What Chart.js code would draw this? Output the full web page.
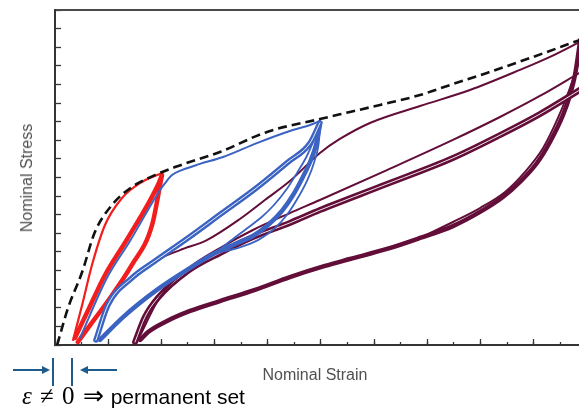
<!DOCTYPE html>
<html><head><meta charset="utf-8">
<script src="https://cdn.jsdelivr.net/npm/chart.js@4.4.1/dist/chart.umd.min.js"></script>
<style>
html,body{margin:0;padding:0;background:#fff;}
#wrap{position:relative;width:579px;height:416px;overflow:hidden;background:#fff;}
#c{position:absolute;left:0;top:0;}
.lbl{position:absolute;font-family:'Liberation Sans',Arial,sans-serif;color:#505050;font-size:16px;line-height:16px;white-space:nowrap;}
#ann{position:absolute;left:22px;top:384px;line-height:24px;white-space:nowrap;color:#000;}
#ann .m{font-family:'Liberation Serif','Times New Roman',serif;font-size:25px;letter-spacing:1px;}
#ann .s{font-family:'Liberation Sans',Arial,sans-serif;font-size:21px;}
</style></head><body>
<div id="wrap">
<canvas id="c" width="579" height="416"></canvas>
<div class="lbl" style="left:27px;top:178px;transform:translate(-50%,-50%) rotate(-90deg);">Nominal Stress</div>
<div class="lbl" style="left:315px;top:375px;transform:translate(-50%,-50%);">Nominal Strain</div>
<svg style="position:absolute;left:0;top:355px" width="130" height="34">
  <g stroke="#1e5a8a" stroke-width="2" fill="#1e5a8a">
    <line x1="13" y1="15" x2="44" y2="15"/>
    <polygon points="50,15 42,11 42,19" stroke="none"/>
    <line x1="53" y1="3" x2="53" y2="31"/>
    <line x1="72" y1="3" x2="72" y2="31"/>
    <line x1="86" y1="15" x2="117" y2="15"/>
    <polygon points="80,15 88,11 88,19" stroke="none"/>
  </g>
</svg>
<div id="ann"><span class="m"><i>ε</i> ≠ 0 ⇒</span><span class="s"> permanent set</span></div>
</div>
<script>
// Virgin (envelope) curve
const envStrain = [0.08,0.49,1.02,1.50,2.14,2.89,3.76,4.51,6.20,7.97,9.96,11.09,12.22,13.72,14.85,16.24,17.86,19.75];
const envStress = [0.00,1.99,3.92,6.07,7.52,8.49,9.13,9.56,10.37,11.45,12.14,12.52,12.90,13.43,13.97,14.62,15.42,16.40];
// Red cycles (first stretch level)
const redLoadStrain = [0.68,1.02,1.39,1.88,2.52,3.27,4.02];
const redLoadStress = [0.27,2.15,4.30,6.45,7.90,8.76,9.24];
const redReloadStrain = [0.75,1.32,1.88,2.74,3.87,4.02];
const redReloadStress = [0.38,2.10,3.76,5.75,8.60,9.13];
const redUnloadStrain = [4.02,3.65,2.89,1.88,1.32,0.86];
const redUnloadStress = [9.13,6.45,4.30,2.15,1.07,0.16];
// Blue cycles (second stretch level)
const blueLoadStrain = [0.94,1.95,2.82,3.95,4.14,4.40,4.77,5.45,6.32,7.59,8.83,9.59,9.96];
const blueLoadStress = [0.38,3.60,5.59,8.33,8.70,9.13,9.40,9.73,10.10,10.85,11.50,11.82,12.04];
const blueReloadStrain = [1.54,1.99,2.89,3.76,5.00,6.28,7.52,8.76,9.59,9.96];
const blueReloadStress = [0.27,2.15,3.60,4.51,5.75,7.09,8.38,9.83,10.85,11.93];
const blueUnloadStrain = [9.96,9.81,9.62,9.32,8.95,8.53,8.01,7.44,6.77,6.02,5.08,3.83,2.56,1.69];
const blueUnloadStress = [11.82,10.75,9.94,9.03,8.06,7.20,6.45,5.86,5.43,4.94,4.14,2.96,1.50,0.27];
const blueFanAStrain = [9.96,9.70,9.45,9.10,8.70,8.25,7.75,7.20,6.60,6.02];
const blueFanAStress = [11.95,10.90,10.10,9.25,8.35,7.55,6.85,6.25,5.60,4.94];
const blueFanBStrain = [9.98,9.90,9.75,9.50,9.15,8.75,8.25,7.65,6.95,6.02];
const blueFanBStress = [11.80,10.70,9.85,8.90,7.95,7.05,6.25,5.65,5.25,4.94];
// Maroon cycles (third stretch level)
const marLoadStrain = [1.54,1.99,2.89,3.76,4.70,5.71,6.95,7.89,8.83,9.96,10.71,11.84,13.72,15.60,17.48,18.61,19.75];
const marLoadStress = [0.27,2.15,3.60,4.51,5.10,5.64,6.77,7.79,8.81,10.32,11.07,11.93,12.84,13.70,14.78,15.48,16.30];
const marReloadAStrain = [3.12,3.95,5.08,6.20,7.44,8.83,9.96,12.48,14.96,16.73,18.23,19.75];
const marReloadAStress = [0.27,2.58,4.19,5.21,6.18,7.09,7.79,9.40,11.02,12.25,13.38,14.65];
const marReloadBStrain = [3.01,3.38,3.87,5.00,6.20,7.44,8.83,9.96,12.48,14.96,16.73,18.23,19.75];
const marReloadBStress = [0.16,1.50,2.53,3.98,4.94,5.80,6.56,7.25,8.65,10.05,11.28,12.41,13.72];
const marUnloadStrain = [19.75,19.55,19.36,19.10,18.61,18.12,17.48,16.84,15.98,14.96,13.72,12.48,11.09,10.15,8.83,7.52,6.20,5.08,4.14,3.50,3.20];
const marUnloadStress = [16.40,14.51,13.43,12.36,10.91,9.78,8.76,7.95,7.15,6.39,5.75,5.16,4.62,4.25,3.65,2.96,2.36,1.83,1.24,0.70,0.27];
const marFanStrain = [19.75,19.36,18.91,18.35,17.67,16.92,15.98,14.96,13.72];
const marFanStress = [15.42,13.81,12.20,10.59,9.30,8.22,7.36,6.61,5.75];
// Axis ranges / ticks
const strainMax = 19.7, stressMax = 18;
const minorStep = 1, majorStep = 2;

const RED = '#f21d1d', BLUE = '#3b63c2', MAROON = '#620e38', AXIS = '#353535';
const pts = (xs, ys) => xs.map((x, i) => ({x: x, y: ys[i]}));
function line(xs, ys, color, width, order, extra) {
  return Object.assign({
    data: pts(xs, ys), showLine: true, borderColor: color, backgroundColor: color,
    borderWidth: width, pointRadius: 0, pointHoverRadius: 0, fill: false,
    cubicInterpolationMode: 'monotone',
    borderCapStyle: 'round', borderJoinStyle: 'round', order: order, xAxisID: 'x', yAxisID: 'y'
  }, extra || {});
}
const datasets = [
  line(envStrain, envStress, '#111111', 2.6, 0, {borderDash: [9, 5], borderCapStyle: 'butt'}),
  // red
  line(redLoadStrain, redLoadStress, RED, 2.2, 30),
  line(redReloadStrain, redReloadStress, RED, 4.5, 31),
  line(redUnloadStrain, redUnloadStress, RED, 4.5, 31),
  // blue
  line(blueLoadStrain, blueLoadStress, BLUE, 2, 10),
  line(blueReloadStrain, blueReloadStress, '#ffffff', 0.9, 11),
  line(blueReloadStrain, blueReloadStress, BLUE, 5.5, 12),
  line(blueUnloadStrain, blueUnloadStress, BLUE, 4.5, 12),
  line(blueFanAStrain, blueFanAStress, BLUE, 1.8, 12),
  line(blueFanBStrain, blueFanBStress, BLUE, 1.8, 12),
  // maroon
  line(marLoadStrain, marLoadStress, MAROON, 2, 20),
  line(marReloadAStrain, marReloadAStress, MAROON, 2, 21),
  line(marReloadBStrain, marReloadBStress, '#ffffff', 0.9, 21),
  line(marReloadBStrain, marReloadBStress, MAROON, 6, 22),
  line(marUnloadStrain, marUnloadStress, MAROON, 4.5, 22),
  line(marFanStrain, marFanStress, MAROON, 2, 22)
];
const zeroH = s => { s.height = 0; };
const zeroW = s => { s.width = 0; };
new Chart(document.getElementById('c'), {
  type: 'scatter',
  data: {datasets: datasets},
  options: {
    responsive: false, devicePixelRatio: 1, animation: false,
    layout: {padding: {left: 55, right: 0, top: 10, bottom: 71}},
    plugins: {legend: {display: false}, tooltip: {enabled: false}},
    events: [],
    scales: {
      x: {type: 'linear', axis: 'x', position: 'bottom', min: 0, max: strainMax,
          ticks: {display: false, stepSize: minorStep, includeBounds: false, maxTicksLimit: 100},
          grid: {drawOnChartArea: false, drawTicks: true, tickLength: -3, tickColor: AXIS, tickWidth: 1.3},
          border: {display: true, color: AXIS, width: 2}, afterFit: zeroH},
      xMajor: {type: 'linear', axis: 'x', position: 'bottom', min: 0, max: strainMax,
          ticks: {display: false, stepSize: majorStep, includeBounds: false, maxTicksLimit: 100},
          grid: {drawOnChartArea: false, drawTicks: true, tickLength: -6, tickColor: AXIS, tickWidth: 1.3},
          border: {display: false}, afterFit: zeroH},
      xTop: {type: 'linear', axis: 'x', position: 'top', min: 0, max: strainMax,
          ticks: {display: false}, grid: {display: false, drawTicks: false},
          border: {display: true, color: '#4a4a4a', width: 2}, afterFit: zeroH},
      y: {type: 'linear', axis: 'y', position: 'left', min: 0, max: stressMax,
          ticks: {display: false, stepSize: minorStep, includeBounds: false, maxTicksLimit: 100},
          grid: {drawOnChartArea: false, drawTicks: true, tickLength: -6, tickColor: AXIS, tickWidth: 1.3},
          border: {display: true, color: AXIS, width: 2}, afterFit: zeroW}
    }
  }
});
</script>
</body></html>
